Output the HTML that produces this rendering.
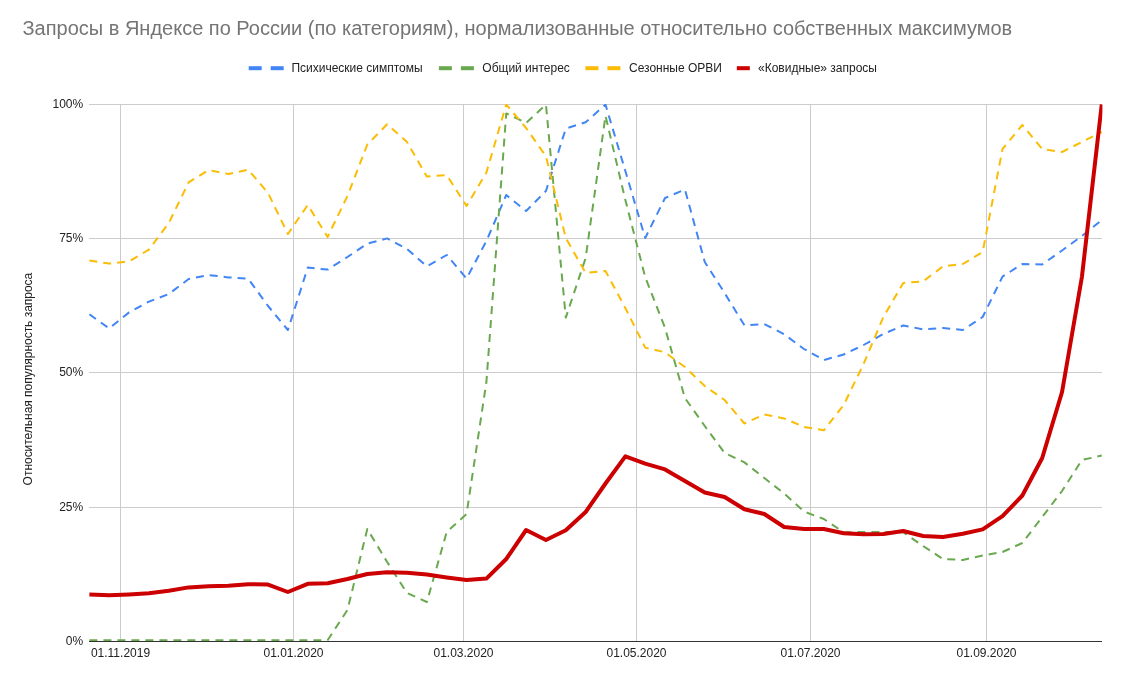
<!DOCTYPE html>
<html lang="ru"><head><meta charset="utf-8"><title>Запросы в Яндексе по России</title>
<style>
html,body{margin:0;padding:0;background:#fff;}
body{width:1121px;height:674px;overflow:hidden;font-family:"Liberation Sans",Arial,sans-serif;}
svg{display:block;}
text{font-family:"Liberation Sans",Arial,sans-serif;}
.ax{font-size:12px;fill:#222;}
.lg{font-size:12px;fill:#222;}
.ttl{font-size:20px;fill:#757575;}
</style></head><body>
<svg width="1121" height="674" viewBox="0 0 1121 674">
<rect x="0" y="0" width="1121" height="674" fill="#ffffff"/>
<text class="ttl" x="22.5" y="35">Запросы в Яндексе по России (по категориям), нормализованные относительно собственных максимумов</text>
<g><rect x="248.7" y="66.2" width="13" height="4" fill="#4285f4"/><rect x="270.7" y="66.2" width="13" height="4" fill="#4285f4"/><text class="lg" x="291.4" y="72.3">Психические симптомы</text><rect x="438.9" y="66.2" width="13" height="4" fill="#6aa84f"/><rect x="460.9" y="66.2" width="13" height="4" fill="#6aa84f"/><text class="lg" x="482.3" y="72.3">Общий интерес</text><rect x="585.4" y="66.2" width="13" height="4" fill="#fbbc04"/><rect x="607.4" y="66.2" width="13" height="4" fill="#fbbc04"/><text class="lg" x="629" y="72.3">Сезонные ОРВИ</text><rect x="736.8" y="66.2" width="13" height="4" fill="#cc0000"/><text class="lg" x="758" y="72.3">«Ковидные» запросы</text></g>
<g stroke="#cccccc" stroke-width="1" shape-rendering="crispEdges"><line x1="89" y1="104.5" x2="1102.2" y2="104.5"/><line x1="89" y1="238.5" x2="1102.2" y2="238.5"/><line x1="89" y1="372.5" x2="1102.2" y2="372.5"/><line x1="89" y1="507.5" x2="1102.2" y2="507.5"/><line x1="120.5" y1="104" x2="120.5" y2="641"/><line x1="293.5" y1="104" x2="293.5" y2="641"/><line x1="463.5" y1="104" x2="463.5" y2="641"/><line x1="636.5" y1="104" x2="636.5" y2="641"/><line x1="810.5" y1="104" x2="810.5" y2="641"/><line x1="986.5" y1="104" x2="986.5" y2="641"/></g>
<defs><clipPath id="cp"><rect x="89" y="104" width="1013.4" height="538"/></clipPath></defs><g fill="none" stroke-linejoin="round" clip-path="url(#cp)"><polyline points="89.40,314.4 109.25,328.4 129.10,312.4 148.95,301.6 168.80,294.0 188.65,279.0 208.50,275.0 228.35,277.4 248.20,278.6 268.05,306.0 287.90,330.0 307.75,267.6 327.60,269.6 347.45,257.0 367.30,243.6 387.15,238.4 407.00,249.0 426.85,266.4 446.70,255.0 466.55,278.5 486.40,241.0 506.25,195.0 526.10,211.0 545.95,191.0 565.80,128.6 585.65,122.2 605.50,104.6 625.35,171.0 645.20,238.0 665.05,198.0 684.90,189.5 704.75,262.0 724.60,293.0 744.45,325.4 764.30,324.0 784.15,334.3 804.00,349.0 823.85,360.0 843.70,354.5 863.55,345.0 883.40,334.0 903.25,325.5 923.10,329.3 942.95,328.0 962.80,330.0 982.65,317.0 1002.50,276.6 1022.35,264.0 1042.20,264.4 1062.05,250.5 1081.90,236.0 1101.75,220.0" stroke="#4285f4" stroke-width="2" stroke-dasharray="8 6"/><polyline points="89.40,640.2 109.25,640.2 129.10,640.2 148.95,640.2 168.80,640.2 188.65,640.2 208.50,640.2 228.35,640.2 248.20,640.2 268.05,640.2 287.90,640.2 307.75,640.2 327.60,640.2 347.45,610.0 367.30,529.0 387.15,562.0 407.00,593.0 426.85,602.0 446.70,532.0 466.55,514.0 486.40,382.0 506.25,113.4 526.10,123.0 545.95,104.6 565.80,317.6 585.65,258.0 605.50,115.8 625.35,200.0 645.20,277.0 665.05,328.0 684.90,398.0 704.75,426.0 724.60,453.0 744.45,462.4 764.30,478.0 784.15,493.5 804.00,511.5 823.85,519.0 843.70,532.3 863.55,532.0 883.40,532.0 903.25,532.3 923.10,546.0 942.95,559.0 962.80,560.0 982.65,555.5 1002.50,552.0 1022.35,543.0 1042.20,517.0 1062.05,491.0 1081.90,460.0 1101.75,455.6" stroke="#6aa84f" stroke-width="2" stroke-dasharray="8 6"/><polyline points="89.40,260.6 109.25,263.6 129.10,261.4 148.95,249.6 168.80,223.0 188.65,182.4 208.50,170.0 228.35,174.0 248.20,169.6 268.05,193.0 287.90,234.0 307.75,205.0 327.60,237.0 347.45,196.0 367.30,144.5 387.15,124.2 407.00,142.0 426.85,176.6 446.70,175.0 466.55,206.0 486.40,172.5 506.25,104.6 526.10,128.0 545.95,156.3 565.80,238.0 585.65,273.0 605.50,271.0 625.35,308.0 645.20,347.6 665.05,352.3 684.90,367.0 704.75,386.0 724.60,400.0 744.45,423.5 764.30,414.4 784.15,418.4 804.00,427.0 823.85,430.3 843.70,405.0 863.55,364.0 883.40,317.0 903.25,283.0 923.10,281.4 942.95,266.4 962.80,264.0 982.65,252.0 1002.50,149.0 1022.35,125.0 1042.20,149.0 1062.05,152.0 1081.90,142.0 1101.75,132.0" stroke="#fbbc04" stroke-width="2" stroke-dasharray="8 6"/><polyline points="89.40,594.6 109.25,595.2 129.10,594.4 148.95,593.2 168.80,590.8 188.65,587.4 208.50,586.2 228.35,585.8 248.20,584.2 268.05,584.6 287.90,592.0 307.75,583.8 327.60,583.2 347.45,579.0 367.30,574.0 387.15,572.2 407.00,572.8 426.85,574.4 446.70,577.4 466.55,580.0 486.40,578.6 506.25,559.0 526.10,530.0 545.95,540.0 565.80,530.3 585.65,512.0 605.50,483.5 625.35,456.4 645.20,463.6 665.05,469.4 684.90,481.0 704.75,492.5 724.60,497.0 744.45,509.3 764.30,514.0 784.15,527.0 804.00,529.0 823.85,529.0 843.70,533.2 863.55,534.2 883.40,534.0 903.25,531.0 923.10,536.0 942.95,537.0 962.80,533.7 982.65,529.4 1002.50,516.2 1022.35,495.5 1042.20,458.0 1062.05,392.0 1081.90,277.0 1101.75,104.4" stroke="#cc0000" stroke-width="4"/></g>
<line x1="89" y1="641.5" x2="1102.2" y2="641.5" stroke="#333333" stroke-width="1" shape-rendering="crispEdges"/>
<g class="ax" text-anchor="end"><text x="83.2" y="107.8">100%</text><text x="83.2" y="241.8">75%</text><text x="83.2" y="375.8">50%</text><text x="83.2" y="510.8">25%</text><text x="83.2" y="644.8">0%</text></g>
<g class="ax" text-anchor="middle"><text x="120.5" y="657">01.11.2019</text><text x="293.5" y="657">01.01.2020</text><text x="463.5" y="657">01.03.2020</text><text x="636.5" y="657">01.05.2020</text><text x="810.5" y="657">01.07.2020</text><text x="986.5" y="657">01.09.2020</text></g>
<text class="ax" text-anchor="middle" textLength="212.6" lengthAdjust="spacing" transform="translate(31.5 379.1) rotate(-90)">Относительная популярность запроса</text>
</svg>
</body></html>
